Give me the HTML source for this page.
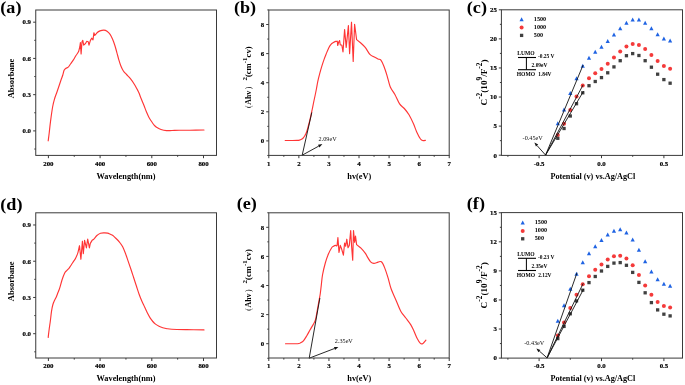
<!DOCTYPE html>
<html><head><meta charset="utf-8"><style>
html,body{margin:0;padding:0;background:#fff;}
body{width:685px;height:385px;overflow:hidden;}
svg{display:block;font-family:"Liberation Serif", serif;will-change:transform;}
</style></head><body>
<svg width="685" height="385" viewBox="0 0 685 385">
<rect width="685" height="385" fill="#fff"/>
<path d="M48.20,140.80 C48.37,139.50 48.82,136.20 49.20,133.00 C49.58,129.80 49.93,125.93 50.50,121.60 C51.07,117.27 51.93,110.77 52.60,107.00 C53.27,103.23 53.80,101.42 54.50,99.00 C55.20,96.58 56.05,94.67 56.80,92.50 C57.55,90.33 58.30,88.08 59.00,86.00 C59.70,83.92 60.37,81.83 61.00,80.00 C61.63,78.17 62.28,76.62 62.80,75.00 C63.32,73.38 63.57,71.42 64.10,70.30 C64.63,69.18 65.32,68.82 66.00,68.30 C66.68,67.78 67.45,67.92 68.20,67.20 C68.95,66.48 69.63,65.22 70.50,64.00 C71.37,62.78 72.48,61.32 73.40,59.90 C74.32,58.48 75.13,56.88 76.00,55.50 C76.87,54.12 77.97,53.02 78.60,51.60 L79.80,47.00 L80.40,42.60 L81.10,54.00 L82.00,41.70 L82.80,40.40 L83.70,45.20 L85.50,43.50 L86.80,41.30 L88.20,41.70 L89.00,45.20 L90.40,40.40 L91.70,38.20 L93.00,39.90 L93.90,32.80 L94.80,35.50 L97.00,32.80 C97.87,32.03 98.85,31.35 100.00,30.90 C101.15,30.45 102.73,30.05 103.90,30.10 C105.07,30.15 105.97,30.50 107.00,31.20 C108.03,31.90 109.18,33.00 110.10,34.30 C111.02,35.60 111.72,37.18 112.50,39.00 C113.28,40.82 114.08,42.98 114.80,45.20 C115.52,47.42 116.15,49.95 116.80,52.30 C117.45,54.65 118.00,56.97 118.70,59.30 C119.40,61.63 120.22,64.35 121.00,66.30 C121.78,68.25 122.48,69.63 123.40,71.00 C124.32,72.37 125.33,73.22 126.50,74.50 C127.67,75.78 129.10,77.08 130.40,78.70 C131.70,80.32 133.20,82.48 134.30,84.20 C135.40,85.92 136.22,87.53 137.00,89.00 C137.78,90.47 138.33,91.45 139.00,93.00 C139.67,94.55 140.20,96.30 141.00,98.30 C141.80,100.30 142.90,102.75 143.80,105.00 C144.70,107.25 145.53,109.72 146.40,111.80 C147.27,113.88 148.08,115.80 149.00,117.50 C149.92,119.20 150.98,120.67 151.90,122.00 C152.82,123.33 153.58,124.53 154.50,125.50 C155.42,126.47 156.32,127.13 157.40,127.80 C158.48,128.47 159.48,129.03 161.00,129.50 C162.52,129.97 164.67,130.43 166.50,130.60 C168.33,130.77 169.88,130.55 172.00,130.50 C174.12,130.45 176.20,130.35 179.20,130.30 C182.20,130.25 185.87,130.25 190.00,130.20 C194.13,130.15 201.67,130.03 204.00,130.00" fill="none" stroke="#ff3535" stroke-width="1.15" stroke-linejoin="round" stroke-linecap="round"/>
<rect x="35.75" y="10.00" width="180.75" height="145.40" fill="none" stroke="#3a3a3a" stroke-width="1.0"/>
<line x1="48.40" y1="155.20" x2="48.40" y2="158.20" stroke="#3a3a3a" stroke-width="1.0" />
<line x1="100.10" y1="155.20" x2="100.10" y2="158.20" stroke="#3a3a3a" stroke-width="1.0" />
<line x1="151.80" y1="155.20" x2="151.80" y2="158.20" stroke="#3a3a3a" stroke-width="1.0" />
<line x1="203.50" y1="155.20" x2="203.50" y2="158.20" stroke="#3a3a3a" stroke-width="1.0" />
<line x1="74.25" y1="155.20" x2="74.25" y2="156.80" stroke="#3a3a3a" stroke-width="1.0" />
<line x1="125.95" y1="155.20" x2="125.95" y2="156.80" stroke="#3a3a3a" stroke-width="1.0" />
<line x1="177.65" y1="155.20" x2="177.65" y2="156.80" stroke="#3a3a3a" stroke-width="1.0" />
<line x1="33.15" y1="130.90" x2="35.75" y2="130.90" stroke="#3a3a3a" stroke-width="1.0" />
<line x1="33.15" y1="94.66" x2="35.75" y2="94.66" stroke="#3a3a3a" stroke-width="1.0" />
<line x1="33.15" y1="58.42" x2="35.75" y2="58.42" stroke="#3a3a3a" stroke-width="1.0" />
<line x1="33.15" y1="22.18" x2="35.75" y2="22.18" stroke="#3a3a3a" stroke-width="1.0" />
<line x1="34.25" y1="149.02" x2="35.75" y2="149.02" stroke="#3a3a3a" stroke-width="1.0" />
<line x1="34.25" y1="112.78" x2="35.75" y2="112.78" stroke="#3a3a3a" stroke-width="1.0" />
<line x1="34.25" y1="76.54" x2="35.75" y2="76.54" stroke="#3a3a3a" stroke-width="1.0" />
<line x1="34.25" y1="40.30" x2="35.75" y2="40.30" stroke="#3a3a3a" stroke-width="1.0" />
<text font-size="6.7" text-anchor="middle" font-weight="bold" stroke="#000" stroke-width="0.18" transform="translate(48.40,165.50) scale(1.02,1)">200</text>
<text font-size="6.7" text-anchor="middle" font-weight="bold" stroke="#000" stroke-width="0.18" transform="translate(100.10,165.50) scale(1.02,1)">400</text>
<text font-size="6.7" text-anchor="middle" font-weight="bold" stroke="#000" stroke-width="0.18" transform="translate(151.80,165.50) scale(1.02,1)">600</text>
<text font-size="6.7" text-anchor="middle" font-weight="bold" stroke="#000" stroke-width="0.18" transform="translate(203.50,165.50) scale(1.02,1)">800</text>
<text font-size="6.7" text-anchor="end" font-weight="bold" stroke="#000" stroke-width="0.18" transform="translate(31.00,133.20) scale(1.02,1)">0.0</text>
<text font-size="6.7" text-anchor="end" font-weight="bold" stroke="#000" stroke-width="0.18" transform="translate(31.00,96.96) scale(1.02,1)">0.3</text>
<text font-size="6.7" text-anchor="end" font-weight="bold" stroke="#000" stroke-width="0.18" transform="translate(31.00,60.72) scale(1.02,1)">0.6</text>
<text font-size="6.7" text-anchor="end" font-weight="bold" stroke="#000" stroke-width="0.18" transform="translate(31.00,24.48) scale(1.02,1)">0.9</text>
<text x="126.00" y="178.60" font-size="8.3" text-anchor="middle" font-weight="bold" fill="#000" >Wavelength(nm)</text>
<text x="0.00" y="0.00" font-size="8.5" text-anchor="middle" font-weight="bold" fill="#000" transform="translate(13.90,78.50) rotate(-90)">Absorbane</text>
<text font-size="17" font-weight="bold" transform="translate(0.30,12.95) scale(1.07,1)">(a)</text>
<path d="M48.20,337.40 C48.37,336.00 48.83,331.82 49.20,329.00 C49.57,326.18 50.02,323.45 50.40,320.50 C50.78,317.55 51.08,313.97 51.50,311.30 C51.92,308.63 52.40,306.30 52.90,304.50 C53.40,302.70 53.93,301.77 54.50,300.50 C55.07,299.23 55.72,298.23 56.30,296.90 C56.88,295.57 57.45,293.92 58.00,292.50 C58.55,291.08 58.93,290.48 59.60,288.40 C60.27,286.32 61.15,282.57 62.00,280.00 C62.85,277.43 63.87,274.62 64.70,273.00 C65.53,271.38 66.23,271.17 67.00,270.30 C67.77,269.43 68.55,268.77 69.30,267.80 C70.05,266.83 70.82,265.53 71.50,264.50 C72.18,263.47 72.72,262.63 73.40,261.60 C74.08,260.57 74.83,259.85 75.60,258.30 C76.37,256.75 77.35,254.40 78.00,252.30 L79.50,245.70 L80.90,259.30 L82.40,241.20 L83.30,253.60 L84.60,240.40 L86.40,247.90 L87.70,239.00 L89.40,247.90 L90.30,243.40 L92.10,240.40 C92.62,239.75 92.97,239.88 93.40,239.50 C93.83,239.12 94.12,238.77 94.70,238.10 C95.28,237.43 95.93,236.30 96.90,235.50 C97.87,234.70 99.32,233.73 100.50,233.30 C101.68,232.87 102.80,232.93 104.00,232.90 C105.20,232.87 106.70,232.90 107.70,233.10 C108.70,233.30 109.13,233.70 110.00,234.10 C110.87,234.50 111.98,234.85 112.90,235.50 C113.82,236.15 114.63,237.17 115.50,238.00 C116.37,238.83 117.27,239.58 118.10,240.50 C118.93,241.42 119.72,242.43 120.50,243.50 C121.28,244.57 121.97,245.23 122.80,246.90 C123.63,248.57 124.60,251.08 125.50,253.50 C126.40,255.92 127.28,258.73 128.20,261.40 C129.12,264.07 130.08,266.77 131.00,269.50 C131.92,272.23 132.80,275.05 133.70,277.80 C134.60,280.55 135.50,283.27 136.40,286.00 C137.30,288.73 138.20,291.70 139.10,294.20 C140.00,296.70 140.88,298.87 141.80,301.00 C142.72,303.13 143.68,305.03 144.60,307.00 C145.52,308.97 146.38,310.98 147.30,312.80 C148.22,314.62 149.18,316.45 150.10,317.90 C151.02,319.35 151.90,320.47 152.80,321.50 C153.70,322.53 154.47,323.32 155.50,324.10 C156.53,324.88 157.78,325.60 159.00,326.20 C160.22,326.80 161.47,327.28 162.80,327.70 C164.13,328.12 165.48,328.45 167.00,328.70 C168.52,328.95 168.65,329.05 171.90,329.20 C175.15,329.35 181.15,329.48 186.50,329.60 C191.85,329.72 201.08,329.85 204.00,329.90" fill="none" stroke="#ff3535" stroke-width="1.15" stroke-linejoin="round" stroke-linecap="round"/>
<rect x="35.75" y="212.80" width="180.75" height="145.20" fill="none" stroke="#3a3a3a" stroke-width="1.0"/>
<line x1="48.40" y1="358.00" x2="48.40" y2="361.00" stroke="#3a3a3a" stroke-width="1.0" />
<line x1="100.10" y1="358.00" x2="100.10" y2="361.00" stroke="#3a3a3a" stroke-width="1.0" />
<line x1="151.80" y1="358.00" x2="151.80" y2="361.00" stroke="#3a3a3a" stroke-width="1.0" />
<line x1="203.50" y1="358.00" x2="203.50" y2="361.00" stroke="#3a3a3a" stroke-width="1.0" />
<line x1="74.25" y1="358.00" x2="74.25" y2="359.60" stroke="#3a3a3a" stroke-width="1.0" />
<line x1="125.95" y1="358.00" x2="125.95" y2="359.60" stroke="#3a3a3a" stroke-width="1.0" />
<line x1="177.65" y1="358.00" x2="177.65" y2="359.60" stroke="#3a3a3a" stroke-width="1.0" />
<line x1="33.15" y1="333.70" x2="35.75" y2="333.70" stroke="#3a3a3a" stroke-width="1.0" />
<line x1="33.15" y1="297.46" x2="35.75" y2="297.46" stroke="#3a3a3a" stroke-width="1.0" />
<line x1="33.15" y1="261.22" x2="35.75" y2="261.22" stroke="#3a3a3a" stroke-width="1.0" />
<line x1="33.15" y1="224.98" x2="35.75" y2="224.98" stroke="#3a3a3a" stroke-width="1.0" />
<line x1="34.25" y1="351.82" x2="35.75" y2="351.82" stroke="#3a3a3a" stroke-width="1.0" />
<line x1="34.25" y1="315.58" x2="35.75" y2="315.58" stroke="#3a3a3a" stroke-width="1.0" />
<line x1="34.25" y1="279.34" x2="35.75" y2="279.34" stroke="#3a3a3a" stroke-width="1.0" />
<line x1="34.25" y1="243.10" x2="35.75" y2="243.10" stroke="#3a3a3a" stroke-width="1.0" />
<text font-size="6.7" text-anchor="middle" font-weight="bold" stroke="#000" stroke-width="0.18" transform="translate(48.40,368.30) scale(1.02,1)">200</text>
<text font-size="6.7" text-anchor="middle" font-weight="bold" stroke="#000" stroke-width="0.18" transform="translate(100.10,368.30) scale(1.02,1)">400</text>
<text font-size="6.7" text-anchor="middle" font-weight="bold" stroke="#000" stroke-width="0.18" transform="translate(151.80,368.30) scale(1.02,1)">600</text>
<text font-size="6.7" text-anchor="middle" font-weight="bold" stroke="#000" stroke-width="0.18" transform="translate(203.50,368.30) scale(1.02,1)">800</text>
<text font-size="6.7" text-anchor="end" font-weight="bold" stroke="#000" stroke-width="0.18" transform="translate(31.00,336.00) scale(1.02,1)">0.0</text>
<text font-size="6.7" text-anchor="end" font-weight="bold" stroke="#000" stroke-width="0.18" transform="translate(31.00,299.76) scale(1.02,1)">0.3</text>
<text font-size="6.7" text-anchor="end" font-weight="bold" stroke="#000" stroke-width="0.18" transform="translate(31.00,263.52) scale(1.02,1)">0.6</text>
<text font-size="6.7" text-anchor="end" font-weight="bold" stroke="#000" stroke-width="0.18" transform="translate(31.00,227.28) scale(1.02,1)">0.9</text>
<text x="126.00" y="381.40" font-size="8.3" text-anchor="middle" font-weight="bold" fill="#000" >Wavelength(nm)</text>
<text x="0.00" y="0.00" font-size="8.5" text-anchor="middle" font-weight="bold" fill="#000" transform="translate(13.90,281.30) rotate(-90)">Absorbane</text>
<text font-size="17" font-weight="bold" transform="translate(0.30,209.50) scale(1.07,1)">(d)</text>
<path d="M285.20,140.50 C286.33,140.50 290.03,140.52 292.00,140.50 C293.97,140.48 295.75,140.47 297.00,140.40 C298.25,140.33 298.75,140.28 299.50,140.10 C300.25,139.92 300.88,139.65 301.50,139.30 C302.12,138.95 302.70,138.52 303.20,138.00 C303.70,137.48 304.03,136.95 304.50,136.20 C304.97,135.45 305.52,134.62 306.00,133.50 C306.48,132.38 306.90,131.17 307.40,129.50 C307.90,127.83 308.47,125.58 309.00,123.50 C309.53,121.42 310.07,119.33 310.60,117.00 C311.13,114.67 311.68,112.00 312.20,109.50 C312.72,107.00 313.20,104.42 313.70,102.00 C314.20,99.58 314.73,97.25 315.20,95.00 C315.67,92.75 316.07,90.77 316.50,88.50 C316.93,86.23 317.27,83.88 317.80,81.40 C318.33,78.92 319.05,76.07 319.70,73.60 C320.35,71.13 320.98,68.93 321.70,66.60 C322.42,64.27 323.22,61.80 324.00,59.60 C324.78,57.40 325.62,55.35 326.40,53.40 C327.18,51.45 327.93,49.42 328.70,47.90 C329.47,46.38 330.22,45.20 331.00,44.30 C331.78,43.40 332.62,42.98 333.40,42.50 C334.18,42.02 335.05,41.62 335.70,41.40 L337.30,41.20 L337.70,45.50 L338.70,42.00 L339.60,40.60 L340.30,45.00 L341.80,45.00 L343.00,52.00 L344.60,29.50 L346.20,47.40 L348.40,25.60 L349.60,53.60 L351.50,22.20 L353.20,61.40 L354.60,24.30 L356.60,39.60 L360.50,42.70 C361.93,44.00 363.63,45.45 365.20,47.40 C366.77,49.35 368.47,52.83 369.90,54.40 C371.33,55.97 372.45,56.03 373.80,56.80 C375.15,57.57 376.82,58.43 378.00,59.00 C379.18,59.57 379.90,58.95 380.90,60.20 C381.90,61.45 382.97,63.90 384.00,66.50 C385.03,69.10 386.07,72.43 387.10,75.80 C388.13,79.17 388.90,83.58 390.20,86.70 C391.50,89.82 393.33,91.63 394.90,94.50 C396.47,97.37 398.03,101.57 399.60,103.90 C401.17,106.23 402.73,106.68 404.30,108.50 C405.87,110.32 407.45,112.20 409.00,114.80 C410.55,117.40 412.32,121.25 413.60,124.10 C414.88,126.95 415.55,129.42 416.70,131.90 C417.85,134.38 419.45,137.55 420.50,139.00 C421.55,140.45 422.17,140.38 423.00,140.60 C423.83,140.82 425.08,140.35 425.50,140.30" fill="none" stroke="#ff3535" stroke-width="1.15" stroke-linejoin="round" stroke-linecap="round"/>
<line x1="302.20" y1="155.20" x2="311.80" y2="112.50" stroke="#111" stroke-width="0.9" />
<line x1="302.20" y1="155.20" x2="318.72" y2="146.12" stroke="#111" stroke-width="0.9" />
<polygon points="322.40,144.10 319.44,147.44 318.00,144.81" fill="#111"/>
<text x="318.60" y="141.20" font-size="6.2" text-anchor="start" font-weight="normal" fill="#111" >2.09eV</text>
<rect x="268.80" y="10.00" width="180.40" height="145.40" fill="none" stroke="#3a3a3a" stroke-width="1.0"/>
<line x1="268.80" y1="155.20" x2="268.80" y2="158.20" stroke="#3a3a3a" stroke-width="1.0" />
<line x1="298.87" y1="155.20" x2="298.87" y2="158.20" stroke="#3a3a3a" stroke-width="1.0" />
<line x1="328.94" y1="155.20" x2="328.94" y2="158.20" stroke="#3a3a3a" stroke-width="1.0" />
<line x1="359.01" y1="155.20" x2="359.01" y2="158.20" stroke="#3a3a3a" stroke-width="1.0" />
<line x1="389.08" y1="155.20" x2="389.08" y2="158.20" stroke="#3a3a3a" stroke-width="1.0" />
<line x1="419.15" y1="155.20" x2="419.15" y2="158.20" stroke="#3a3a3a" stroke-width="1.0" />
<line x1="449.22" y1="155.20" x2="449.22" y2="158.20" stroke="#3a3a3a" stroke-width="1.0" />
<line x1="283.84" y1="155.20" x2="283.84" y2="156.80" stroke="#3a3a3a" stroke-width="1.0" />
<line x1="313.91" y1="155.20" x2="313.91" y2="156.80" stroke="#3a3a3a" stroke-width="1.0" />
<line x1="343.98" y1="155.20" x2="343.98" y2="156.80" stroke="#3a3a3a" stroke-width="1.0" />
<line x1="374.05" y1="155.20" x2="374.05" y2="156.80" stroke="#3a3a3a" stroke-width="1.0" />
<line x1="404.12" y1="155.20" x2="404.12" y2="156.80" stroke="#3a3a3a" stroke-width="1.0" />
<line x1="434.19" y1="155.20" x2="434.19" y2="156.80" stroke="#3a3a3a" stroke-width="1.0" />
<line x1="266.20" y1="140.90" x2="268.80" y2="140.90" stroke="#3a3a3a" stroke-width="1.0" />
<line x1="266.20" y1="111.80" x2="268.80" y2="111.80" stroke="#3a3a3a" stroke-width="1.0" />
<line x1="266.20" y1="82.70" x2="268.80" y2="82.70" stroke="#3a3a3a" stroke-width="1.0" />
<line x1="266.20" y1="53.60" x2="268.80" y2="53.60" stroke="#3a3a3a" stroke-width="1.0" />
<line x1="266.20" y1="24.50" x2="268.80" y2="24.50" stroke="#3a3a3a" stroke-width="1.0" />
<line x1="267.30" y1="155.45" x2="268.80" y2="155.45" stroke="#3a3a3a" stroke-width="1.0" />
<line x1="267.30" y1="126.35" x2="268.80" y2="126.35" stroke="#3a3a3a" stroke-width="1.0" />
<line x1="267.30" y1="97.25" x2="268.80" y2="97.25" stroke="#3a3a3a" stroke-width="1.0" />
<line x1="267.30" y1="68.15" x2="268.80" y2="68.15" stroke="#3a3a3a" stroke-width="1.0" />
<line x1="267.30" y1="39.05" x2="268.80" y2="39.05" stroke="#3a3a3a" stroke-width="1.0" />
<line x1="267.30" y1="9.95" x2="268.80" y2="9.95" stroke="#3a3a3a" stroke-width="1.0" />
<text font-size="6.7" text-anchor="middle" font-weight="bold" stroke="#000" stroke-width="0.18" transform="translate(268.80,165.50) scale(1.02,1)">1</text>
<text font-size="6.7" text-anchor="middle" font-weight="bold" stroke="#000" stroke-width="0.18" transform="translate(298.87,165.50) scale(1.02,1)">2</text>
<text font-size="6.7" text-anchor="middle" font-weight="bold" stroke="#000" stroke-width="0.18" transform="translate(328.94,165.50) scale(1.02,1)">3</text>
<text font-size="6.7" text-anchor="middle" font-weight="bold" stroke="#000" stroke-width="0.18" transform="translate(359.01,165.50) scale(1.02,1)">4</text>
<text font-size="6.7" text-anchor="middle" font-weight="bold" stroke="#000" stroke-width="0.18" transform="translate(389.08,165.50) scale(1.02,1)">5</text>
<text font-size="6.7" text-anchor="middle" font-weight="bold" stroke="#000" stroke-width="0.18" transform="translate(419.15,165.50) scale(1.02,1)">6</text>
<text font-size="6.7" text-anchor="middle" font-weight="bold" stroke="#000" stroke-width="0.18" transform="translate(449.22,165.50) scale(1.02,1)">7</text>
<text font-size="6.7" text-anchor="end" font-weight="bold" stroke="#000" stroke-width="0.18" transform="translate(264.10,143.20) scale(1.02,1)">0</text>
<text font-size="6.7" text-anchor="end" font-weight="bold" stroke="#000" stroke-width="0.18" transform="translate(264.10,114.10) scale(1.02,1)">2</text>
<text font-size="6.7" text-anchor="end" font-weight="bold" stroke="#000" stroke-width="0.18" transform="translate(264.10,85.00) scale(1.02,1)">4</text>
<text font-size="6.7" text-anchor="end" font-weight="bold" stroke="#000" stroke-width="0.18" transform="translate(264.10,55.90) scale(1.02,1)">6</text>
<text font-size="6.7" text-anchor="end" font-weight="bold" stroke="#000" stroke-width="0.18" transform="translate(264.10,26.80) scale(1.02,1)">8</text>
<text x="359.30" y="178.60" font-size="8.3" text-anchor="middle" font-weight="bold" fill="#000" >hv(eV)</text>
<text font-size="8.6" font-weight="bold" text-anchor="middle" transform="translate(250.90,77.20) rotate(-90)"><tspan font-size="7.8"><tspan font-weight="normal">(</tspan> Ahv <tspan font-weight="normal">)</tspan></tspan>  <tspan font-size="7" dy="-3.8">2</tspan><tspan dy="3.8">(cm</tspan><tspan font-size="7" dy="-3.8">-1</tspan><tspan dy="3.8">cv)</tspan></text>
<text font-size="17" font-weight="bold" transform="translate(233.90,12.65) scale(1.07,1)">(b)</text>
<path d="M285.50,343.70 C287.08,343.70 292.75,343.73 295.00,343.70 C297.25,343.67 298.08,343.65 299.00,343.50 C299.92,343.35 299.77,343.25 300.50,342.80 C301.23,342.35 302.35,341.98 303.40,340.80 C304.45,339.62 305.68,337.53 306.80,335.70 C307.92,333.87 308.98,331.77 310.10,329.80 C311.22,327.83 312.60,325.58 313.50,323.90 C314.40,322.22 314.83,322.18 315.50,319.70 C316.17,317.22 316.85,312.52 317.50,309.00 C318.15,305.48 318.93,301.18 319.40,298.60 C319.87,296.02 320.00,295.60 320.30,293.50 C320.60,291.40 320.83,289.08 321.20,286.00 C321.57,282.92 321.82,278.83 322.50,275.00 C323.18,271.17 324.32,266.50 325.30,263.00 C326.28,259.50 327.33,256.55 328.40,254.00 C329.47,251.45 330.85,248.98 331.70,247.70 C332.55,246.42 332.85,246.68 333.50,246.30 C334.15,245.92 335.00,245.55 335.60,245.40 C336.20,245.25 336.72,246.70 337.10,245.40 L337.90,237.60 L339.00,252.40 L340.30,245.40 L341.50,248.50 L343.40,255.20 L344.60,243.00 L345.70,246.20 L346.80,239.20 L348.00,247.70 L349.30,245.40 L350.70,230.60 L351.60,246.20 L352.70,260.20 L353.50,230.60 L354.60,242.30 L355.50,236.00 L356.60,244.60 L360.50,247.70 C361.93,249.13 364.03,251.63 365.20,253.20 C366.37,254.77 366.60,255.67 367.50,257.10 C368.40,258.53 369.53,260.75 370.60,261.80 C371.67,262.85 372.65,263.35 373.90,263.40 C375.15,263.45 376.85,262.37 378.10,262.10 C379.35,261.83 380.32,260.88 381.40,261.80 C382.48,262.72 383.52,265.00 384.60,267.60 C385.68,270.20 386.82,273.87 387.90,277.40 C388.98,280.93 389.75,285.00 391.10,288.80 C392.45,292.60 394.37,296.42 396.00,300.20 C397.63,303.98 399.27,308.53 400.90,311.50 C402.53,314.47 404.17,315.82 405.80,318.00 C407.43,320.18 409.35,322.43 410.70,324.60 C412.05,326.77 412.82,328.68 413.90,331.00 C414.98,333.32 416.12,336.43 417.20,338.50 C418.28,340.57 419.43,342.58 420.40,343.40 C421.37,344.22 422.08,343.93 423.00,343.40 C423.92,342.87 425.42,340.73 425.90,340.20" fill="none" stroke="#ff3535" stroke-width="1.15" stroke-linejoin="round" stroke-linecap="round"/>
<line x1="309.20" y1="358.20" x2="319.90" y2="298.00" stroke="#111" stroke-width="0.9" />
<line x1="309.20" y1="358.20" x2="334.48" y2="348.50" stroke="#111" stroke-width="0.9" />
<polygon points="338.40,347.00 335.02,349.90 333.94,347.10" fill="#111"/>
<text x="334.80" y="343.00" font-size="6.2" text-anchor="start" font-weight="normal" fill="#111" >2.35eV</text>
<rect x="268.80" y="212.80" width="180.40" height="145.20" fill="none" stroke="#3a3a3a" stroke-width="1.0"/>
<line x1="268.80" y1="358.00" x2="268.80" y2="361.00" stroke="#3a3a3a" stroke-width="1.0" />
<line x1="298.87" y1="358.00" x2="298.87" y2="361.00" stroke="#3a3a3a" stroke-width="1.0" />
<line x1="328.94" y1="358.00" x2="328.94" y2="361.00" stroke="#3a3a3a" stroke-width="1.0" />
<line x1="359.01" y1="358.00" x2="359.01" y2="361.00" stroke="#3a3a3a" stroke-width="1.0" />
<line x1="389.08" y1="358.00" x2="389.08" y2="361.00" stroke="#3a3a3a" stroke-width="1.0" />
<line x1="419.15" y1="358.00" x2="419.15" y2="361.00" stroke="#3a3a3a" stroke-width="1.0" />
<line x1="449.22" y1="358.00" x2="449.22" y2="361.00" stroke="#3a3a3a" stroke-width="1.0" />
<line x1="283.84" y1="358.00" x2="283.84" y2="359.60" stroke="#3a3a3a" stroke-width="1.0" />
<line x1="313.91" y1="358.00" x2="313.91" y2="359.60" stroke="#3a3a3a" stroke-width="1.0" />
<line x1="343.98" y1="358.00" x2="343.98" y2="359.60" stroke="#3a3a3a" stroke-width="1.0" />
<line x1="374.05" y1="358.00" x2="374.05" y2="359.60" stroke="#3a3a3a" stroke-width="1.0" />
<line x1="404.12" y1="358.00" x2="404.12" y2="359.60" stroke="#3a3a3a" stroke-width="1.0" />
<line x1="434.19" y1="358.00" x2="434.19" y2="359.60" stroke="#3a3a3a" stroke-width="1.0" />
<line x1="266.20" y1="343.70" x2="268.80" y2="343.70" stroke="#3a3a3a" stroke-width="1.0" />
<line x1="266.20" y1="314.60" x2="268.80" y2="314.60" stroke="#3a3a3a" stroke-width="1.0" />
<line x1="266.20" y1="285.50" x2="268.80" y2="285.50" stroke="#3a3a3a" stroke-width="1.0" />
<line x1="266.20" y1="256.40" x2="268.80" y2="256.40" stroke="#3a3a3a" stroke-width="1.0" />
<line x1="266.20" y1="227.30" x2="268.80" y2="227.30" stroke="#3a3a3a" stroke-width="1.0" />
<line x1="267.30" y1="358.25" x2="268.80" y2="358.25" stroke="#3a3a3a" stroke-width="1.0" />
<line x1="267.30" y1="329.15" x2="268.80" y2="329.15" stroke="#3a3a3a" stroke-width="1.0" />
<line x1="267.30" y1="300.05" x2="268.80" y2="300.05" stroke="#3a3a3a" stroke-width="1.0" />
<line x1="267.30" y1="270.95" x2="268.80" y2="270.95" stroke="#3a3a3a" stroke-width="1.0" />
<line x1="267.30" y1="241.85" x2="268.80" y2="241.85" stroke="#3a3a3a" stroke-width="1.0" />
<line x1="267.30" y1="212.75" x2="268.80" y2="212.75" stroke="#3a3a3a" stroke-width="1.0" />
<text font-size="6.7" text-anchor="middle" font-weight="bold" stroke="#000" stroke-width="0.18" transform="translate(268.80,368.30) scale(1.02,1)">1</text>
<text font-size="6.7" text-anchor="middle" font-weight="bold" stroke="#000" stroke-width="0.18" transform="translate(298.87,368.30) scale(1.02,1)">2</text>
<text font-size="6.7" text-anchor="middle" font-weight="bold" stroke="#000" stroke-width="0.18" transform="translate(328.94,368.30) scale(1.02,1)">3</text>
<text font-size="6.7" text-anchor="middle" font-weight="bold" stroke="#000" stroke-width="0.18" transform="translate(359.01,368.30) scale(1.02,1)">4</text>
<text font-size="6.7" text-anchor="middle" font-weight="bold" stroke="#000" stroke-width="0.18" transform="translate(389.08,368.30) scale(1.02,1)">5</text>
<text font-size="6.7" text-anchor="middle" font-weight="bold" stroke="#000" stroke-width="0.18" transform="translate(419.15,368.30) scale(1.02,1)">6</text>
<text font-size="6.7" text-anchor="middle" font-weight="bold" stroke="#000" stroke-width="0.18" transform="translate(449.22,368.30) scale(1.02,1)">7</text>
<text font-size="6.7" text-anchor="end" font-weight="bold" stroke="#000" stroke-width="0.18" transform="translate(264.10,346.00) scale(1.02,1)">0</text>
<text font-size="6.7" text-anchor="end" font-weight="bold" stroke="#000" stroke-width="0.18" transform="translate(264.10,316.90) scale(1.02,1)">2</text>
<text font-size="6.7" text-anchor="end" font-weight="bold" stroke="#000" stroke-width="0.18" transform="translate(264.10,287.80) scale(1.02,1)">4</text>
<text font-size="6.7" text-anchor="end" font-weight="bold" stroke="#000" stroke-width="0.18" transform="translate(264.10,258.70) scale(1.02,1)">6</text>
<text font-size="6.7" text-anchor="end" font-weight="bold" stroke="#000" stroke-width="0.18" transform="translate(264.10,229.60) scale(1.02,1)">8</text>
<text x="359.30" y="381.40" font-size="8.3" text-anchor="middle" font-weight="bold" fill="#000" >hv(eV)</text>
<text font-size="8.6" font-weight="bold" text-anchor="middle" transform="translate(250.90,280.00) rotate(-90)"><tspan font-size="7.8"><tspan font-weight="normal">(</tspan> Ahv <tspan font-weight="normal">)</tspan></tspan>  <tspan font-size="7" dy="-3.8">2</tspan><tspan dy="3.8">(cm</tspan><tspan font-size="7" dy="-3.8">-1</tspan><tspan dy="3.8">cv)</tspan></text>
<text font-size="17" font-weight="bold" transform="translate(236.70,208.90) scale(1.07,1)">(e)</text>
<polygon points="557.80,121.25 559.90,125.25 555.70,125.25" fill="#1f63e3"/>
<polygon points="564.04,107.45 566.14,111.45 561.94,111.45" fill="#1f63e3"/>
<polygon points="570.28,91.05 572.38,95.05 568.18,95.05" fill="#1f63e3"/>
<polygon points="576.52,76.25 578.62,80.25 574.42,80.25" fill="#1f63e3"/>
<polygon points="582.76,63.75 584.86,67.75 580.66,67.75" fill="#1f63e3"/>
<polygon points="589.00,55.65 591.10,59.65 586.90,59.65" fill="#1f63e3"/>
<polygon points="595.24,49.85 597.34,53.85 593.14,53.85" fill="#1f63e3"/>
<polygon points="601.48,44.65 603.58,48.65 599.38,48.65" fill="#1f63e3"/>
<polygon points="607.72,39.05 609.82,43.05 605.62,43.05" fill="#1f63e3"/>
<polygon points="613.96,32.55 616.06,36.55 611.86,36.55" fill="#1f63e3"/>
<polygon points="620.20,26.15 622.30,30.15 618.10,30.15" fill="#1f63e3"/>
<polygon points="626.44,20.75 628.54,24.75 624.34,24.75" fill="#1f63e3"/>
<polygon points="632.68,17.45 634.78,21.45 630.58,21.45" fill="#1f63e3"/>
<polygon points="638.92,17.45 641.02,21.45 636.82,21.45" fill="#1f63e3"/>
<polygon points="645.16,20.75 647.26,24.75 643.06,24.75" fill="#1f63e3"/>
<polygon points="651.40,26.15 653.50,30.15 649.30,30.15" fill="#1f63e3"/>
<polygon points="657.64,32.15 659.74,36.15 655.54,36.15" fill="#1f63e3"/>
<polygon points="663.88,36.55 665.98,40.55 661.78,40.55" fill="#1f63e3"/>
<polygon points="670.12,38.45 672.22,42.45 668.02,42.45" fill="#1f63e3"/>
<circle cx="557.80" cy="135.10" r="2.0" fill="#f43a3a"/>
<circle cx="564.04" cy="123.80" r="2.0" fill="#f43a3a"/>
<circle cx="570.28" cy="110.00" r="2.0" fill="#f43a3a"/>
<circle cx="576.52" cy="96.50" r="2.0" fill="#f43a3a"/>
<circle cx="582.76" cy="85.60" r="2.0" fill="#f43a3a"/>
<circle cx="589.00" cy="78.20" r="2.0" fill="#f43a3a"/>
<circle cx="595.24" cy="73.20" r="2.0" fill="#f43a3a"/>
<circle cx="601.48" cy="69.00" r="2.0" fill="#f43a3a"/>
<circle cx="607.72" cy="63.80" r="2.0" fill="#f43a3a"/>
<circle cx="613.96" cy="57.60" r="2.0" fill="#f43a3a"/>
<circle cx="620.20" cy="51.40" r="2.0" fill="#f43a3a"/>
<circle cx="626.44" cy="46.60" r="2.0" fill="#f43a3a"/>
<circle cx="632.68" cy="44.10" r="2.0" fill="#f43a3a"/>
<circle cx="638.92" cy="45.10" r="2.0" fill="#f43a3a"/>
<circle cx="645.16" cy="49.10" r="2.0" fill="#f43a3a"/>
<circle cx="651.40" cy="54.90" r="2.0" fill="#f43a3a"/>
<circle cx="657.64" cy="61.10" r="2.0" fill="#f43a3a"/>
<circle cx="663.88" cy="65.90" r="2.0" fill="#f43a3a"/>
<circle cx="670.12" cy="68.80" r="2.0" fill="#f43a3a"/>
<rect x="556.15" y="136.65" width="3.3" height="3.3" fill="#404040"/>
<rect x="562.39" y="126.85" width="3.3" height="3.3" fill="#404040"/>
<rect x="568.63" y="114.35" width="3.3" height="3.3" fill="#404040"/>
<rect x="574.87" y="102.05" width="3.3" height="3.3" fill="#404040"/>
<rect x="581.11" y="91.15" width="3.3" height="3.3" fill="#404040"/>
<rect x="587.35" y="84.05" width="3.3" height="3.3" fill="#404040"/>
<rect x="593.59" y="79.85" width="3.3" height="3.3" fill="#404040"/>
<rect x="599.83" y="75.95" width="3.3" height="3.3" fill="#404040"/>
<rect x="606.07" y="71.15" width="3.3" height="3.3" fill="#404040"/>
<rect x="612.31" y="65.25" width="3.3" height="3.3" fill="#404040"/>
<rect x="618.55" y="59.05" width="3.3" height="3.3" fill="#404040"/>
<rect x="624.79" y="54.05" width="3.3" height="3.3" fill="#404040"/>
<rect x="631.03" y="51.95" width="3.3" height="3.3" fill="#404040"/>
<rect x="637.27" y="53.85" width="3.3" height="3.3" fill="#404040"/>
<rect x="643.51" y="59.05" width="3.3" height="3.3" fill="#404040"/>
<rect x="649.75" y="65.55" width="3.3" height="3.3" fill="#404040"/>
<rect x="655.99" y="72.55" width="3.3" height="3.3" fill="#404040"/>
<rect x="662.23" y="77.95" width="3.3" height="3.3" fill="#404040"/>
<rect x="668.47" y="81.55" width="3.3" height="3.3" fill="#404040"/>
<line x1="545.50" y1="155.20" x2="583.10" y2="65.00" stroke="#111" stroke-width="0.9" />
<line x1="545.50" y1="155.20" x2="583.10" y2="84.90" stroke="#111" stroke-width="0.9" />
<line x1="545.50" y1="155.20" x2="583.50" y2="91.30" stroke="#111" stroke-width="0.9" />
<line x1="545.50" y1="155.00" x2="537.07" y2="145.58" stroke="#111" stroke-width="0.9" />
<polygon points="534.40,142.60 538.19,144.58 535.95,146.58" fill="#111"/>
<text x="522.60" y="139.60" font-size="6.2" text-anchor="start" font-weight="normal" fill="#111" >-0.45eV</text>
<rect x="501.40" y="9.80" width="181.10" height="145.60" fill="none" stroke="#3a3a3a" stroke-width="1.0"/>
<line x1="539.10" y1="155.20" x2="539.10" y2="158.20" stroke="#3a3a3a" stroke-width="1.0" />
<line x1="601.50" y1="155.20" x2="601.50" y2="158.20" stroke="#3a3a3a" stroke-width="1.0" />
<line x1="663.90" y1="155.20" x2="663.90" y2="158.20" stroke="#3a3a3a" stroke-width="1.0" />
<line x1="507.90" y1="155.20" x2="507.90" y2="156.80" stroke="#3a3a3a" stroke-width="1.0" />
<line x1="570.30" y1="155.20" x2="570.30" y2="156.80" stroke="#3a3a3a" stroke-width="1.0" />
<line x1="632.70" y1="155.20" x2="632.70" y2="156.80" stroke="#3a3a3a" stroke-width="1.0" />
<line x1="498.80" y1="155.20" x2="501.40" y2="155.20" stroke="#3a3a3a" stroke-width="1.0" />
<line x1="498.80" y1="126.12" x2="501.40" y2="126.12" stroke="#3a3a3a" stroke-width="1.0" />
<line x1="498.80" y1="97.04" x2="501.40" y2="97.04" stroke="#3a3a3a" stroke-width="1.0" />
<line x1="498.80" y1="67.96" x2="501.40" y2="67.96" stroke="#3a3a3a" stroke-width="1.0" />
<line x1="498.80" y1="38.88" x2="501.40" y2="38.88" stroke="#3a3a3a" stroke-width="1.0" />
<line x1="498.80" y1="9.80" x2="501.40" y2="9.80" stroke="#3a3a3a" stroke-width="1.0" />
<line x1="499.90" y1="140.66" x2="501.40" y2="140.66" stroke="#3a3a3a" stroke-width="1.0" />
<line x1="499.90" y1="111.58" x2="501.40" y2="111.58" stroke="#3a3a3a" stroke-width="1.0" />
<line x1="499.90" y1="82.50" x2="501.40" y2="82.50" stroke="#3a3a3a" stroke-width="1.0" />
<line x1="499.90" y1="53.42" x2="501.40" y2="53.42" stroke="#3a3a3a" stroke-width="1.0" />
<line x1="499.90" y1="24.34" x2="501.40" y2="24.34" stroke="#3a3a3a" stroke-width="1.0" />
<text font-size="6.7" text-anchor="middle" font-weight="bold" stroke="#000" stroke-width="0.18" transform="translate(539.10,165.50) scale(1.02,1)">-0.5</text>
<text font-size="6.7" text-anchor="middle" font-weight="bold" stroke="#000" stroke-width="0.18" transform="translate(601.50,165.50) scale(1.02,1)">0.0</text>
<text font-size="6.7" text-anchor="middle" font-weight="bold" stroke="#000" stroke-width="0.18" transform="translate(663.90,165.50) scale(1.02,1)">0.5</text>
<text font-size="6.7" text-anchor="end" font-weight="bold" stroke="#000" stroke-width="0.18" transform="translate(496.80,157.50) scale(1.02,1)">0</text>
<text font-size="6.7" text-anchor="end" font-weight="bold" stroke="#000" stroke-width="0.18" transform="translate(496.80,128.42) scale(1.02,1)">5</text>
<text font-size="6.7" text-anchor="end" font-weight="bold" stroke="#000" stroke-width="0.18" transform="translate(496.80,99.34) scale(1.02,1)">10</text>
<text font-size="6.7" text-anchor="end" font-weight="bold" stroke="#000" stroke-width="0.18" transform="translate(496.80,70.26) scale(1.02,1)">15</text>
<text font-size="6.7" text-anchor="end" font-weight="bold" stroke="#000" stroke-width="0.18" transform="translate(496.80,41.18) scale(1.02,1)">20</text>
<text font-size="6.7" text-anchor="end" font-weight="bold" stroke="#000" stroke-width="0.18" transform="translate(496.80,12.10) scale(1.02,1)">25</text>
<text x="592.80" y="178.60" font-size="8.2" text-anchor="middle" font-weight="bold" fill="#000" >Potential (v) vs.Ag/AgCl</text>
<text font-size="9.2" font-weight="bold" text-anchor="middle" transform="translate(486.60,82.50) rotate(-90)">C<tspan font-size="7.4" dy="-4.4">-</tspan><tspan font-size="7.4">2</tspan><tspan dy="4.4">(10</tspan><tspan font-size="7.4" dy="-4.4">9</tspan><tspan dy="4.4">/F</tspan><tspan font-size="7.4" dy="-4.4">-</tspan><tspan font-size="7.4">2</tspan><tspan dy="4.4">)</tspan></text>
<polygon points="521.60,17.15 523.70,21.15 519.50,21.15" fill="#1f63e3"/>
<circle cx="521.60" cy="27.50" r="2.0" fill="#f43a3a"/>
<rect x="519.95" y="33.75" width="3.3" height="3.3" fill="#404040"/>
<text x="533.80" y="21.00" font-size="6.2" text-anchor="start" font-weight="bold" fill="#000" >1500</text>
<text x="533.80" y="29.00" font-size="6.2" text-anchor="start" font-weight="bold" fill="#000" >1000</text>
<text x="533.80" y="36.70" font-size="6.2" text-anchor="start" font-weight="bold" fill="#000" >500</text>
<line x1="518.00" y1="57.50" x2="536.00" y2="57.50" stroke="#000" stroke-width="1.1" />
<line x1="518.00" y1="69.70" x2="536.00" y2="69.70" stroke="#000" stroke-width="1.1" />
<line x1="526.40" y1="57.50" x2="526.40" y2="69.70" stroke="#000" stroke-width="1.0" />
<text x="517.30" y="55.10" font-size="5.6" text-anchor="start" font-weight="bold" fill="#000" >LUMO</text>
<text x="516.70" y="76.10" font-size="5.6" text-anchor="start" font-weight="bold" fill="#000" >HOMO</text>
<text x="538.00" y="58.20" font-size="5.4" text-anchor="start" font-weight="bold" fill="#000" >-0.25 V</text>
<text x="531.60" y="67.00" font-size="5.4" text-anchor="start" font-weight="bold" fill="#000" >2.09eV</text>
<text x="538.20" y="76.10" font-size="5.4" text-anchor="start" font-weight="bold" fill="#000" >1.84V</text>
<text font-size="17" font-weight="bold" transform="translate(466.80,12.95) scale(1.07,1)">(c)</text>
<polygon points="557.80,318.85 559.90,322.85 555.70,322.85" fill="#1f63e3"/>
<polygon points="564.04,303.35 566.14,307.35 561.94,307.35" fill="#1f63e3"/>
<polygon points="570.28,286.75 572.38,290.75 568.18,290.75" fill="#1f63e3"/>
<polygon points="576.52,271.65 578.62,275.65 574.42,275.65" fill="#1f63e3"/>
<polygon points="582.76,260.15 584.86,264.15 580.66,264.15" fill="#1f63e3"/>
<polygon points="589.00,251.35 591.10,255.35 586.90,255.35" fill="#1f63e3"/>
<polygon points="595.24,244.15 597.34,248.15 593.14,248.15" fill="#1f63e3"/>
<polygon points="601.48,237.95 603.58,241.95 599.38,241.95" fill="#1f63e3"/>
<polygon points="607.72,232.45 609.82,236.45 605.62,236.45" fill="#1f63e3"/>
<polygon points="613.96,228.85 616.06,232.85 611.86,232.85" fill="#1f63e3"/>
<polygon points="620.20,227.35 622.30,231.35 618.10,231.35" fill="#1f63e3"/>
<polygon points="626.44,230.45 628.54,234.45 624.34,234.45" fill="#1f63e3"/>
<polygon points="632.68,237.55 634.78,241.55 630.58,241.55" fill="#1f63e3"/>
<polygon points="638.92,247.75 641.02,251.75 636.82,251.75" fill="#1f63e3"/>
<polygon points="645.16,259.35 647.26,263.35 643.06,263.35" fill="#1f63e3"/>
<polygon points="651.40,269.55 653.50,273.55 649.30,273.55" fill="#1f63e3"/>
<polygon points="657.64,277.35 659.74,281.35 655.54,281.35" fill="#1f63e3"/>
<polygon points="663.88,281.85 665.98,285.85 661.78,285.85" fill="#1f63e3"/>
<polygon points="670.12,283.65 672.22,287.65 668.02,287.65" fill="#1f63e3"/>
<circle cx="557.80" cy="335.60" r="2.0" fill="#f43a3a"/>
<circle cx="564.04" cy="322.60" r="2.0" fill="#f43a3a"/>
<circle cx="570.28" cy="308.00" r="2.0" fill="#f43a3a"/>
<circle cx="576.52" cy="294.70" r="2.0" fill="#f43a3a"/>
<circle cx="582.76" cy="284.20" r="2.0" fill="#f43a3a"/>
<circle cx="589.00" cy="276.20" r="2.0" fill="#f43a3a"/>
<circle cx="595.24" cy="269.70" r="2.0" fill="#f43a3a"/>
<circle cx="601.48" cy="264.40" r="2.0" fill="#f43a3a"/>
<circle cx="607.72" cy="259.60" r="2.0" fill="#f43a3a"/>
<circle cx="613.96" cy="256.20" r="2.0" fill="#f43a3a"/>
<circle cx="620.20" cy="255.80" r="2.0" fill="#f43a3a"/>
<circle cx="626.44" cy="258.60" r="2.0" fill="#f43a3a"/>
<circle cx="632.68" cy="265.20" r="2.0" fill="#f43a3a"/>
<circle cx="638.92" cy="275.00" r="2.0" fill="#f43a3a"/>
<circle cx="645.16" cy="285.60" r="2.0" fill="#f43a3a"/>
<circle cx="651.40" cy="294.70" r="2.0" fill="#f43a3a"/>
<circle cx="657.64" cy="302.00" r="2.0" fill="#f43a3a"/>
<circle cx="663.88" cy="305.90" r="2.0" fill="#f43a3a"/>
<circle cx="670.12" cy="307.60" r="2.0" fill="#f43a3a"/>
<rect x="556.15" y="336.95" width="3.3" height="3.3" fill="#404040"/>
<rect x="562.39" y="324.75" width="3.3" height="3.3" fill="#404040"/>
<rect x="568.63" y="312.15" width="3.3" height="3.3" fill="#404040"/>
<rect x="574.87" y="299.25" width="3.3" height="3.3" fill="#404040"/>
<rect x="581.11" y="288.55" width="3.3" height="3.3" fill="#404040"/>
<rect x="587.35" y="280.95" width="3.3" height="3.3" fill="#404040"/>
<rect x="593.59" y="274.85" width="3.3" height="3.3" fill="#404040"/>
<rect x="599.83" y="269.35" width="3.3" height="3.3" fill="#404040"/>
<rect x="606.07" y="264.75" width="3.3" height="3.3" fill="#404040"/>
<rect x="612.31" y="261.45" width="3.3" height="3.3" fill="#404040"/>
<rect x="618.55" y="260.95" width="3.3" height="3.3" fill="#404040"/>
<rect x="624.79" y="263.65" width="3.3" height="3.3" fill="#404040"/>
<rect x="631.03" y="270.75" width="3.3" height="3.3" fill="#404040"/>
<rect x="637.27" y="280.75" width="3.3" height="3.3" fill="#404040"/>
<rect x="643.51" y="291.15" width="3.3" height="3.3" fill="#404040"/>
<rect x="649.75" y="300.95" width="3.3" height="3.3" fill="#404040"/>
<rect x="655.99" y="308.25" width="3.3" height="3.3" fill="#404040"/>
<rect x="662.23" y="312.55" width="3.3" height="3.3" fill="#404040"/>
<rect x="668.47" y="314.25" width="3.3" height="3.3" fill="#404040"/>
<line x1="547.00" y1="358.10" x2="577.00" y2="272.80" stroke="#111" stroke-width="0.9" />
<line x1="547.00" y1="358.10" x2="583.20" y2="283.40" stroke="#111" stroke-width="0.9" />
<line x1="547.00" y1="358.10" x2="583.60" y2="289.10" stroke="#111" stroke-width="0.9" />
<line x1="547.00" y1="357.80" x2="539.41" y2="351.14" stroke="#111" stroke-width="0.9" />
<polygon points="536.40,348.50 540.40,350.01 538.42,352.27" fill="#111"/>
<text x="524.20" y="344.60" font-size="6.2" text-anchor="start" font-weight="normal" fill="#111" >-0.43eV</text>
<rect x="501.40" y="212.60" width="181.10" height="145.50" fill="none" stroke="#3a3a3a" stroke-width="1.0"/>
<line x1="539.10" y1="358.10" x2="539.10" y2="361.10" stroke="#3a3a3a" stroke-width="1.0" />
<line x1="601.50" y1="358.10" x2="601.50" y2="361.10" stroke="#3a3a3a" stroke-width="1.0" />
<line x1="663.90" y1="358.10" x2="663.90" y2="361.10" stroke="#3a3a3a" stroke-width="1.0" />
<line x1="507.90" y1="358.10" x2="507.90" y2="359.70" stroke="#3a3a3a" stroke-width="1.0" />
<line x1="570.30" y1="358.10" x2="570.30" y2="359.70" stroke="#3a3a3a" stroke-width="1.0" />
<line x1="632.70" y1="358.10" x2="632.70" y2="359.70" stroke="#3a3a3a" stroke-width="1.0" />
<line x1="498.80" y1="358.10" x2="501.40" y2="358.10" stroke="#3a3a3a" stroke-width="1.0" />
<line x1="498.80" y1="329.03" x2="501.40" y2="329.03" stroke="#3a3a3a" stroke-width="1.0" />
<line x1="498.80" y1="299.96" x2="501.40" y2="299.96" stroke="#3a3a3a" stroke-width="1.0" />
<line x1="498.80" y1="270.89" x2="501.40" y2="270.89" stroke="#3a3a3a" stroke-width="1.0" />
<line x1="498.80" y1="241.82" x2="501.40" y2="241.82" stroke="#3a3a3a" stroke-width="1.0" />
<line x1="498.80" y1="212.75" x2="501.40" y2="212.75" stroke="#3a3a3a" stroke-width="1.0" />
<line x1="499.90" y1="343.56" x2="501.40" y2="343.56" stroke="#3a3a3a" stroke-width="1.0" />
<line x1="499.90" y1="314.50" x2="501.40" y2="314.50" stroke="#3a3a3a" stroke-width="1.0" />
<line x1="499.90" y1="285.43" x2="501.40" y2="285.43" stroke="#3a3a3a" stroke-width="1.0" />
<line x1="499.90" y1="256.36" x2="501.40" y2="256.36" stroke="#3a3a3a" stroke-width="1.0" />
<line x1="499.90" y1="227.29" x2="501.40" y2="227.29" stroke="#3a3a3a" stroke-width="1.0" />
<text font-size="6.7" text-anchor="middle" font-weight="bold" stroke="#000" stroke-width="0.18" transform="translate(539.10,368.40) scale(1.02,1)">-0.5</text>
<text font-size="6.7" text-anchor="middle" font-weight="bold" stroke="#000" stroke-width="0.18" transform="translate(601.50,368.40) scale(1.02,1)">0.0</text>
<text font-size="6.7" text-anchor="middle" font-weight="bold" stroke="#000" stroke-width="0.18" transform="translate(663.90,368.40) scale(1.02,1)">0.5</text>
<text font-size="6.7" text-anchor="end" font-weight="bold" stroke="#000" stroke-width="0.18" transform="translate(496.80,360.40) scale(1.02,1)">0</text>
<text font-size="6.7" text-anchor="end" font-weight="bold" stroke="#000" stroke-width="0.18" transform="translate(496.80,331.33) scale(1.02,1)">3</text>
<text font-size="6.7" text-anchor="end" font-weight="bold" stroke="#000" stroke-width="0.18" transform="translate(496.80,302.26) scale(1.02,1)">6</text>
<text font-size="6.7" text-anchor="end" font-weight="bold" stroke="#000" stroke-width="0.18" transform="translate(496.80,273.19) scale(1.02,1)">9</text>
<text font-size="6.7" text-anchor="end" font-weight="bold" stroke="#000" stroke-width="0.18" transform="translate(496.80,244.12) scale(1.02,1)">12</text>
<text font-size="6.7" text-anchor="end" font-weight="bold" stroke="#000" stroke-width="0.18" transform="translate(496.80,215.05) scale(1.02,1)">15</text>
<text x="592.80" y="381.40" font-size="8.2" text-anchor="middle" font-weight="bold" fill="#000" >Potential (v) vs.Ag/AgCl</text>
<text font-size="9.2" font-weight="bold" text-anchor="middle" transform="translate(486.60,285.30) rotate(-90)">C<tspan font-size="7.4" dy="-4.4">-</tspan><tspan font-size="7.4">2</tspan><tspan dy="4.4">(10</tspan><tspan font-size="7.4" dy="-4.4">9</tspan><tspan dy="4.4">/F</tspan><tspan font-size="7.4" dy="-4.4">-</tspan><tspan font-size="7.4">2</tspan><tspan dy="4.4">)</tspan></text>
<polygon points="522.70,220.55 524.80,224.55 520.60,224.55" fill="#1f63e3"/>
<circle cx="522.70" cy="230.90" r="2.0" fill="#f43a3a"/>
<rect x="521.05" y="237.15" width="3.3" height="3.3" fill="#404040"/>
<text x="534.70" y="224.40" font-size="6.2" text-anchor="start" font-weight="bold" fill="#000" >1500</text>
<text x="534.70" y="232.40" font-size="6.2" text-anchor="start" font-weight="bold" fill="#000" >1000</text>
<text x="534.70" y="240.10" font-size="6.2" text-anchor="start" font-weight="bold" fill="#000" >500</text>
<line x1="518.00" y1="258.30" x2="536.00" y2="258.30" stroke="#000" stroke-width="1.1" />
<line x1="518.00" y1="270.50" x2="536.00" y2="270.50" stroke="#000" stroke-width="1.1" />
<line x1="526.40" y1="258.30" x2="526.40" y2="270.50" stroke="#000" stroke-width="1.0" />
<text x="517.30" y="255.90" font-size="5.6" text-anchor="start" font-weight="bold" fill="#000" >LUMO</text>
<text x="516.70" y="276.90" font-size="5.6" text-anchor="start" font-weight="bold" fill="#000" >HOMO</text>
<text x="538.00" y="259.00" font-size="5.4" text-anchor="start" font-weight="bold" fill="#000" >-0.23 V</text>
<text x="531.60" y="267.80" font-size="5.4" text-anchor="start" font-weight="bold" fill="#000" >2.35eV</text>
<text x="538.20" y="276.90" font-size="5.4" text-anchor="start" font-weight="bold" fill="#000" >2.12V</text>
<text font-size="17" font-weight="bold" transform="translate(466.80,208.90) scale(1.07,1)">(f)</text>
</svg>
</body></html>
